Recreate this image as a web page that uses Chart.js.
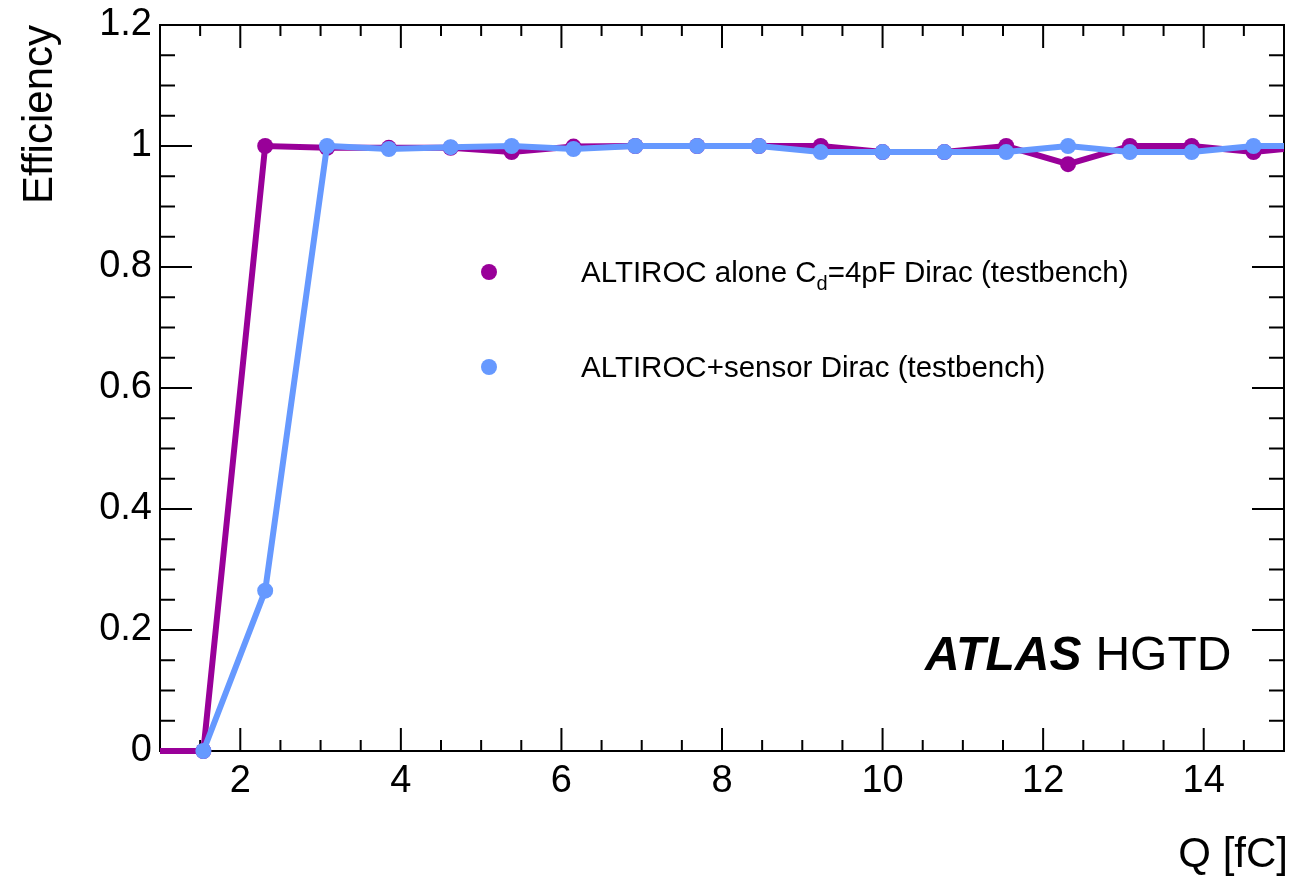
<!DOCTYPE html>
<html>
<head>
<meta charset="utf-8">
<script src="https://cdn.jsdelivr.net/npm/chart.js@4/dist/chart.umd.min.js"></script>
<style>
  html, body { margin: 0; padding: 0; background: #fff; }
  canvas { display: block; }
</style>
</head>
<body>
<canvas id="effChart" width="1292" height="878"></canvas>
<script>
// charge points [fC]
const charge = [0.77, 1.54, 2.31, 3.08, 3.85, 4.62, 5.38, 6.15, 6.92, 7.69, 8.46, 9.23, 10.0, 10.77, 11.54, 12.31, 13.08, 13.85, 14.62, 15.38];
// ALTIROC alone, Cd = 4pF
const effAlone = [0, 0, 1.0, 0.997, 0.997, 0.997, 0.99, 0.999, 1.0, 1.0, 1.0, 1.0, 0.99, 0.99, 1.0, 0.97, 1.0, 1.0, 0.99, 1.0];
// ALTIROC + sensor (starts at the second charge point)
const chargeSensor = [1.54, 2.31, 3.08, 3.85, 4.62, 5.38, 6.15, 6.92, 7.69, 8.46, 9.23, 10.0, 10.77, 11.54, 12.31, 13.08, 13.85, 14.62, 15.38];
const effSensor = [0, 0.265, 1.0, 0.995, 0.998, 1.0, 0.995, 1.0, 1.0, 1.0, 0.99, 0.99, 0.99, 0.99, 1.0, 0.99, 0.99, 1.0, 1.0];

const xTicks = [2, 4, 6, 8, 10, 12, 14];
const yTicks = [0, 0.2, 0.4, 0.6, 0.8, 1, 1.2];

const PURPLE = '#990099';
const BLUE = '#6699ff';
const FONT = '"Liberation Sans", Arial, Helvetica, sans-serif';

function toPoints(xs, ys) {
    return xs.map((x, i) => ({ x: x, y: ys[i] }));
}

// ROOT-like frame with inward ticks on all four sides
const rootFrame = {
    id: 'rootFrame',
    beforeDatasetsDraw(chart) {
        const { ctx, chartArea: a, scales } = chart;
        const xs = scales.x, ys = scales.y;
        ctx.save();
        ctx.strokeStyle = '#000';
        ctx.lineWidth = 2;
        ctx.strokeRect(a.left, a.top, a.right - a.left, a.bottom - a.top);

        ctx.beginPath();
        for (let v = 1; v <= 15.001; v += 0.5) {
            const px = xs.getPixelForValue(v);
            if (px <= a.left + 1 || px >= a.right - 1) continue;
            const len = (Math.abs(v % 2) < 1e-6) ? 23 : 11;
            ctx.moveTo(px, a.bottom); ctx.lineTo(px, a.bottom - len);
            ctx.moveTo(px, a.top); ctx.lineTo(px, a.top + len);
        }
        for (let k = 0; k <= 24; k++) {
            const v = k * 0.05;
            const py = ys.getPixelForValue(v);
            const len = (k % 4 === 0) ? 32 : 15;
            ctx.moveTo(a.left, py); ctx.lineTo(a.left + len, py);
            ctx.moveTo(a.right, py); ctx.lineTo(a.right - len, py);
        }
        ctx.stroke();
        ctx.restore();
    },
    afterDraw(chart) {
        const { ctx, chartArea: a } = chart;
        ctx.save();
        ctx.fillStyle = '#000';

        // axis titles
        ctx.font = '42px ' + FONT;
        ctx.textAlign = 'right';
        ctx.textBaseline = 'alphabetic';
        ctx.fillText('Q [fC]', a.right + 4, 867);

        ctx.save();
        ctx.translate(52, a.top);
        ctx.rotate(-Math.PI / 2);
        ctx.textAlign = 'right';
        ctx.fillText('Efficiency', 0, 0);
        ctx.restore();

        // legend
        const ds = chart.data.datasets;
        const rows = [
            { y: 272, color: ds[1].borderColor },
            { y: 367, color: ds[0].borderColor }
        ];
        rows.forEach(r => {
            ctx.beginPath();
            ctx.fillStyle = r.color;
            ctx.arc(489, r.y, 8, 0, Math.PI * 2);
            ctx.fill();
        });
        ctx.fillStyle = '#000';
        ctx.textAlign = 'left';
        ctx.font = '29.5px ' + FONT;
        let x = 581;
        const base1 = 282;
        ctx.fillText('ALTIROC alone C', x, base1);
        x += ctx.measureText('ALTIROC alone C').width;
        ctx.font = '20px ' + FONT;
        ctx.fillText('d', x, base1 + 8);
        x += ctx.measureText('d').width;
        ctx.font = '29.5px ' + FONT;
        ctx.fillText('=4pF Dirac (testbench)', x, base1);
        ctx.fillText('ALTIROC+sensor Dirac (testbench)', 581, 377);

        // experiment label
        ctx.font = 'italic bold 48px ' + FONT;
        ctx.fillText('ATLAS', 925, 670);
        const w = ctx.measureText('ATLAS').width;
        ctx.font = '48px ' + FONT;
        ctx.fillText('HGTD', 925 + w + 14, 670);
        ctx.restore();
    }
};

new Chart(document.getElementById('effChart'), {
    type: 'scatter',
    data: {
        datasets: [
            {
                label: 'ALTIROC+sensor Dirac (testbench)',
                data: toPoints(chargeSensor, effSensor),
                showLine: true,
                borderColor: BLUE,
                backgroundColor: BLUE,
                borderWidth: 6,
                pointRadius: 8,
                pointBorderWidth: 0,
                pointBackgroundColor: BLUE,
                order: 0,
                clip: { left: 0, right: 0, top: 0, bottom: false }
            },
            {
                label: 'ALTIROC alone Cd=4pF Dirac (testbench)',
                data: toPoints(charge, effAlone),
                showLine: true,
                borderColor: PURPLE,
                backgroundColor: PURPLE,
                borderWidth: 6,
                pointRadius: 8,
                pointBorderWidth: 0,
                pointBackgroundColor: PURPLE,
                order: 1,
                clip: { left: 0, right: 0, top: 0, bottom: false }
            }
        ]
    },
    options: {
        responsive: false,
        animation: false,
        devicePixelRatio: 1,
        layout: { padding: { top: 25, right: 5, left: 0, bottom: 0 } },
        plugins: { legend: { display: false }, tooltip: { enabled: false } },
        scales: {
            x: {
                type: 'linear',
                min: 1,
                max: 15,
                grid: { display: false },
                border: { display: false },
                afterBuildTicks: s => { s.ticks = xTicks.map(v => ({ value: v })); },
                afterFit: s => { s.height = 127; s.paddingLeft = 0; s.paddingRight = 0; },
                ticks: { color: '#000', font: { family: FONT, size: 38 }, padding: 0, maxRotation: 0 }
            },
            y: {
                type: 'linear',
                min: 0,
                max: 1.2,
                grid: { display: false },
                border: { display: false },
                afterBuildTicks: s => { s.ticks = yTicks.map(v => ({ value: v })); },
                afterFit: s => { s.width = 160; s.paddingTop = 0; s.paddingBottom = 0; },
                ticks: {
                    color: '#000', font: { family: FONT, size: 38 }, padding: 0,
                    callback: v => String(Math.round(v * 10) / 10)
                }
            }
        }
    },
    plugins: [rootFrame]
});
</script>
</body>
</html>
